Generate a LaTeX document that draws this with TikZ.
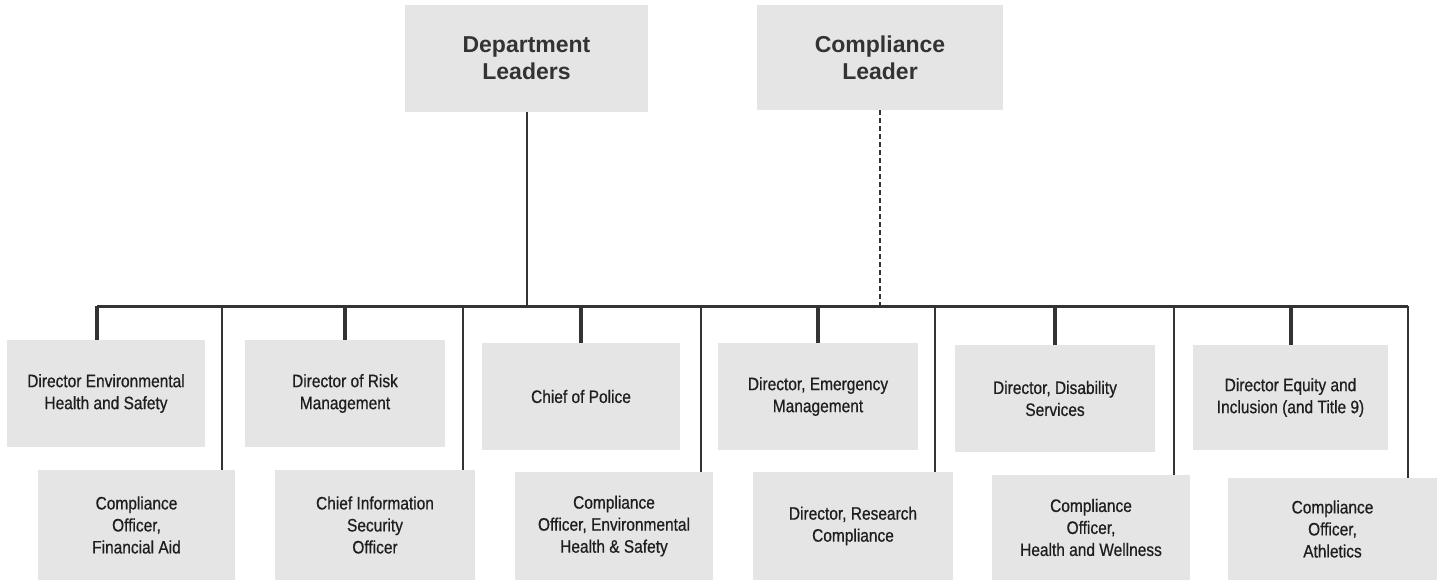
\documentclass[tikz,border=0pt]{standalone}
\usepackage{fontspec}
\setmainfont{Liberation Sans}
\newfontfamily\narrowsans[FakeStretch=0.86,FakeBold=0.6]{Liberation Sans}
\definecolor{boxgray}{HTML}{E5E5E5}
\definecolor{linegray}{HTML}{333333}
\definecolor{txtgray}{HTML}{1E1E1E}
\tikzset{
  box/.style={fill=boxgray, draw=none, inner sep=0pt, align=center, text=txtgray},
  topbox/.style={box, font=\bfseries\fontsize{23}{27}\selectfont, text=linegray},
  lowbox/.style={box, font=\narrowsans\fontsize{18}{22}\selectfont},
  busline/.style={draw=linegray, line width=3pt},
  shortdrop/.style={draw=linegray, line width=4pt},
  longdrop/.style={draw=linegray, line width=2.5pt},
  solidlink/.style={draw=linegray, line width=2pt},
  dashlink/.style={draw=linegray, line width=2pt, dash pattern=on 5pt off 3pt},
}
\begin{document}
\begin{tikzpicture}[x=1pt,y=-1pt]
\useasboundingbox (0,0) rectangle (1437,582);
\fill[white] (0,0) rectangle (1437,582);

% top boxes
\node[topbox, minimum width=243pt, minimum height=107pt] (dept) at (526.5,58.5) {Department\\Leaders};
\node[topbox, minimum width=246pt, minimum height=105pt] (comp) at (880,57.5) {Compliance\\Leader};

% upper row
\node[lowbox, minimum width=198pt, minimum height=107pt] (u1) at (106,393.5) {Director Environmental\\Health and Safety};
\node[lowbox, minimum width=200pt, minimum height=107pt] (u2) at (345,393.5) {Director of Risk\\Management};
\node[lowbox, minimum width=198pt, minimum height=107pt] (u3) at (581,396.5) {Chief of Police};
\node[lowbox, minimum width=200pt, minimum height=107pt] (u4) at (818,396.5) {Director, Emergency\\Management};
\node[lowbox, minimum width=200pt, minimum height=107pt] (u5) at (1055,398.5) {Director, Disability\\Services};
\node[lowbox, minimum width=195pt, minimum height=105pt] (u6) at (1290.5,397.5) {Director Equity and\\Inclusion (and Title 9)};

% lower row
\node[lowbox, minimum width=197pt, minimum height=110pt] (l1) at (136.5,525) {Compliance\\Officer,\\Financial Aid};
\node[lowbox, minimum width=200pt, minimum height=110pt] (l2) at (375,525) {Chief Information\\Security\\Officer};
\node[lowbox, minimum width=198pt, minimum height=108pt] (l3) at (614,526) {Compliance\\Officer, Environmental\\Health \& Safety};
\node[lowbox, minimum width=200pt, minimum height=108pt] (l4) at (853,526) {Director, Research\\Compliance};
\node[lowbox, minimum width=198pt, minimum height=105pt] (l5) at (1091,527.5) {Compliance\\Officer,\\Health and Wellness};
\node[lowbox, minimum width=209pt, minimum height=102pt] (l6) at (1332.5,529) {Compliance\\Officer,\\Athletics};

% bus coordinates
\coordinate (busL) at (97,306);
\coordinate (busR) at (1408,306);
\coordinate (d1) at (222,306);
\coordinate (d2) at (463,306);
\coordinate (d3) at (701,306);
\coordinate (d4) at (935,306);
\coordinate (d5) at (1174,306);

% links from leaders
\draw[solidlink] (dept.south) -- (dept.south |- busL);
\draw[dashlink] (comp.south) -- (comp.south |- busL);

% bus
\draw[busline] (busL) -- (busR);

% short drops to upper row
\draw[shortdrop] (busL) -- (busL |- u1.north);
\draw[shortdrop] (u2.north |- busL) -- (u2.north);
\draw[shortdrop] (u3.north |- busL) -- (u3.north);
\draw[shortdrop] (u4.north |- busL) -- (u4.north);
\draw[shortdrop] (u5.north |- busL) -- (u5.north);
\draw[shortdrop] (u6.north |- busL) -- (u6.north);

% long drops to lower row
\draw[longdrop] (d1) -- (d1 |- l1.north);
\draw[longdrop] (d2) -- (d2 |- l2.north);
\draw[longdrop] (d3) -- (d3 |- l3.north);
\draw[longdrop] (d4) -- (d4 |- l4.north);
\draw[longdrop] (d5) -- (d5 |- l5.north);
\draw[longdrop] (busR) -- (busR |- l6.north);
\end{tikzpicture}
\end{document}
